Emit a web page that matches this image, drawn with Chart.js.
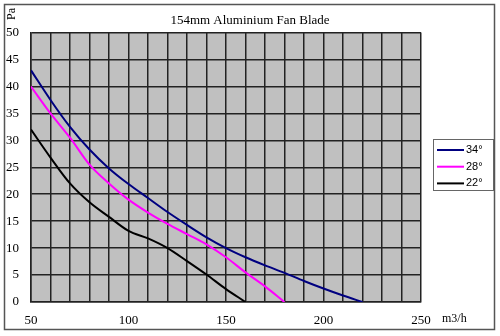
<!DOCTYPE html>
<html>
<head>
<meta charset="utf-8">
<script src="https://cdn.jsdelivr.net/npm/chart.js@4/dist/chart.umd.min.js"></script>
<style>
  html, body { margin: 0; padding: 0; background: #fff; }
  #wrap { width: 500px; height: 336px; position: relative; }
</style>
</head>
<body>
<div id="wrap"><canvas id="chartFan"></canvas></div>
<script>
// Fan curve data (flow m3/h -> static pressure Pa)
var flow = [50, 60, 70, 80, 90, 100, 110, 120, 130, 140, 150, 160, 170, 180, 190, 200, 210, 220];
var pressure34 = [43, 37.5, 32.5, 28.3, 24.8, 21.9, 19.3, 16.7, 14.3, 12, 10, 8.3, 6.8, 5.4, 3.9, 2.5, 1.2, 0];
var pressure28 = [40, 35, 30.5, 25.5, 22, 19, 16.6, 14.5, 12.6, 10.7, 8.3, 5.5, 2.9, 0];
var pressure22 = [32, 26.8, 22, 18.5, 15.8, 13.2, 11.8, 10, 7.6, 5.1, 2.4, 0];
var seriesLabels = ['34°', '28°', '22°'];
var seriesColors = ['#000080', '#ff00ff', '#000000'];
var xTicks = [50, 100, 150, 200, 250];
var yTicks = [0, 5, 10, 15, 20, 25, 30, 35, 40, 45, 50];

function toPoints(values) {
  return values.map(function (v, i) { return { x: flow[i], y: v }; });
}

// Gray plot background, outer frame, axis units and boxed legend
var decorPlugin = {
  id: 'decor',
  beforeDraw: function (chart) {
    var c = chart.ctx, a = chart.chartArea;
    c.save();
    c.fillStyle = '#c0c0c0';
    c.fillRect(a.left, a.top, a.right - a.left, a.bottom - a.top);
    c.restore();
  },
  afterDraw: function (chart) {
    var c = chart.ctx;
    c.save();
    c.strokeStyle = '#555';
    c.lineWidth = 1.5;
    c.strokeRect(4.5, 4.5, 490, 325);

    c.fillStyle = '#000';
    c.font = '12px "Liberation Serif"';
    c.textBaseline = 'middle';
    c.textAlign = 'left';
    c.fillText('m3/h', 442, 319);
    c.translate(12, 14);
    c.rotate(-Math.PI / 2);
    c.textAlign = 'center';
    c.fillText('Pa', 0, 0);
    c.restore();

    // legend
    c.save();
    c.strokeStyle = '#666';
    c.lineWidth = 1;
    c.strokeRect(433.5, 139.5, 60, 51);
    c.font = '11px "Liberation Sans"';
    c.textBaseline = 'middle';
    c.textAlign = 'left';
    chart.data.datasets.forEach(function (ds, i) {
      var y = 150 + i * 16.7;
      c.strokeStyle = ds.borderColor;
      c.lineWidth = 2;
      c.beginPath();
      c.moveTo(437, y);
      c.lineTo(464, y);
      c.stroke();
      c.fillStyle = '#000';
      c.fillText(ds.label, 466, y);
    });
    c.restore();
  }
};

new Chart(document.getElementById('chartFan'), {
  type: 'line',
  data: {
    datasets: [
      { label: seriesLabels[0], data: toPoints(pressure34), borderColor: seriesColors[0] },
      { label: seriesLabels[1], data: toPoints(pressure28), borderColor: seriesColors[1] },
      { label: seriesLabels[2], data: toPoints(pressure22), borderColor: seriesColors[2] }
    ]
  },
  options: {
    responsive: true,
    maintainAspectRatio: false,
    animation: false,
    layout: { padding: 0 },
    elements: {
      line: { borderWidth: 2, cubicInterpolationMode: 'monotone', fill: false },
      point: { radius: 0 }
    },
    plugins: {
      legend: { display: false },
      tooltip: { enabled: false },
      title: {
        display: true,
        text: '154mm Aluminium Fan Blade',
        color: '#000',
        font: { family: '"Liberation Serif"', size: 13, weight: 'normal' },
        padding: { top: 13, bottom: 4 }
      }
    },
    scales: {
      x: {
        type: 'linear',
        min: 50,
        max: 250,
        afterFit: function (axis) { axis.height = 34; },
        grid: { color: '#222', lineWidth: 1.5, drawTicks: false },
        border: { color: '#222', width: 1.5 },
        ticks: {
          stepSize: 10,
          autoSkip: false,
          maxRotation: 0,
          padding: 11,
          color: '#000',
          font: { family: '"Liberation Serif"', size: 13 },
          callback: function (v) { return xTicks.indexOf(v) >= 0 ? String(v) : ''; }
        }
      },
      y: {
        min: 0,
        max: 50,
        afterFit: function (axis) { axis.width = 31; },
        afterBuildTicks: function (axis) { axis.ticks = yTicks.map(function (v) { return { value: v }; }); },
        grid: { color: '#222', lineWidth: 1.5, drawTicks: false },
        border: { color: '#222', width: 1.5 },
        ticks: {
          padding: 12,
          color: '#000',
          font: { family: '"Liberation Serif"', size: 13 }
        }
      },
      // empty axis that only reserves room for the legend on the right
      yLegend: {
        position: 'right',
        min: 0,
        max: 1,
        afterFit: function (axis) { axis.width = 79; },
        grid: { display: false },
        border: { display: false },
        ticks: { display: false }
      }
    }
  },
  plugins: [decorPlugin]
});
</script>
</body>
</html>
